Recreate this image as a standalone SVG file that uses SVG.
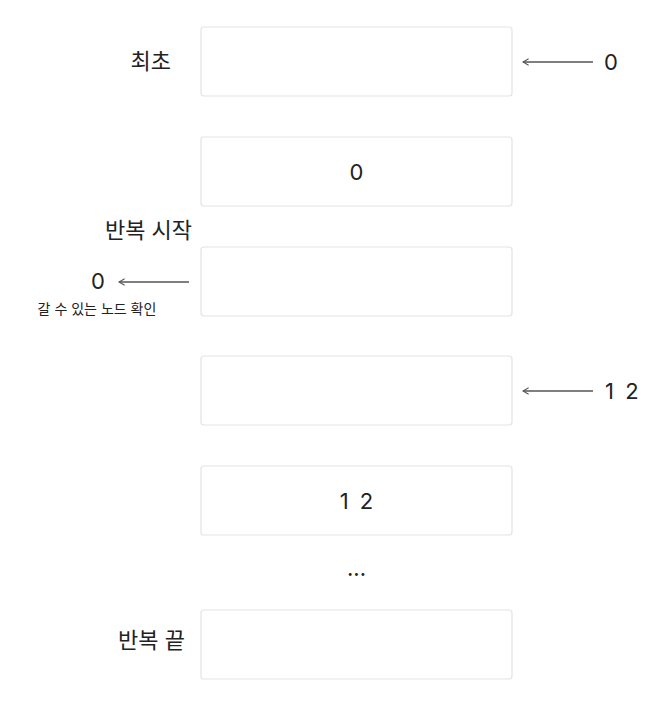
<svg xmlns="http://www.w3.org/2000/svg" width="671" height="708" viewBox="0 0 671 708">
<defs>
<style>
.box{fill:#ffffff;stroke:#e3e3e3;stroke-width:1.2}
.t{font-family:"Inter","Noto Sans CJK KR",sans-serif;fill:#222222;font-size:22px}
.s{font-family:"Inter","Noto Sans CJK KR",sans-serif;fill:#222222;font-size:14px}
.ar{stroke:#555555;stroke-width:1.3;fill:none}
</style>
<marker id="ah" viewBox="0 0 10 10" refX="9" refY="5" markerWidth="8" markerHeight="8" orient="auto" markerUnits="userSpaceOnUse">
<path d="M2,1 L9,5 L2,9" fill="none" stroke="#555555" stroke-width="1.3"/>
</marker>
</defs>
<rect width="671" height="708" fill="#ffffff"/>
<g id="node-initial">
<rect class="box" x="201" y="27" width="311" height="69" rx="3"/>
<text class="t" x="171" y="69" text-anchor="end">최초</text>
</g>
<g id="node-step1">
<rect class="box" x="201" y="137" width="311" height="69" rx="3"/>
<text class="t" x="356.5" y="180" text-anchor="middle">0</text>
</g>
<g id="node-loop-start">
<rect class="box" x="201" y="247" width="311" height="69" rx="3"/>
<text class="t" x="148.5" y="238" text-anchor="middle">반복 시작</text>
<text class="t" x="98" y="289" text-anchor="middle">0</text>
<text class="s" x="97" y="314" text-anchor="middle">갈 수 있는 노드 확인</text>
</g>
<g id="node-step3">
<rect class="box" x="201" y="356" width="311" height="69" rx="3"/>
</g>
<g id="node-step4">
<rect class="box" x="201" y="466" width="311" height="69" rx="3"/>
<text class="t" x="356.5" y="509" text-anchor="middle" word-spacing="5">1 2</text>
</g>
<g id="ellipsis">
<text class="t" x="356.5" y="576" text-anchor="middle">...</text>
</g>
<g id="node-loop-end">
<rect class="box" x="201" y="610" width="311" height="69" rx="3"/>
<text class="t" x="185" y="648" text-anchor="end">반복 끝</text>
</g>
<g id="connectors">
<line class="ar" x1="593" y1="62" x2="523" y2="62" marker-end="url(#ah)"/>
<text class="t" x="604" y="70">0</text>
<line class="ar" x1="189" y1="282" x2="119" y2="282" marker-end="url(#ah)"/>
<line class="ar" x1="593" y1="391" x2="523" y2="391" marker-end="url(#ah)"/>
<text class="t" x="605" y="399" word-spacing="5">1 2</text>
</g>
</svg>
